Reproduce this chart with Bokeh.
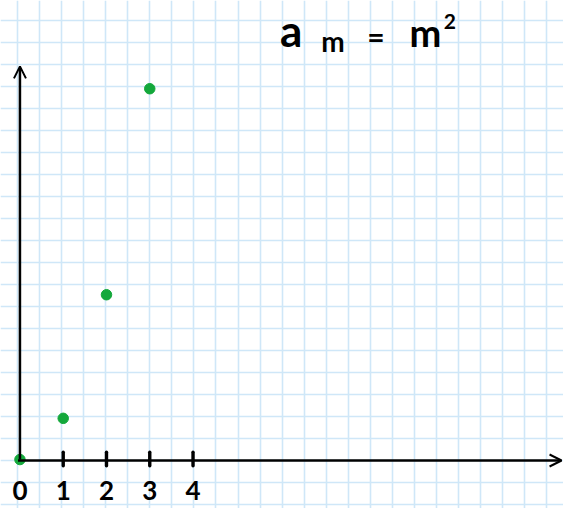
from bokeh.plotting import figure
from bokeh.models import Range1d, FixedTicker, Arrow, OpenHead, Label
from bokeh.core.properties import value
from bokeh.embed import file_html
from bokeh.resources import INLINE

# ---- data ----
n_values = [0, 1, 2, 3]
a_values = [0, 1, 4, 9]
tick_values = [1, 2, 3, 4]
tick_labels = ["0", "1", "2", "3", "4"]
label_positions = [0, 1, 2, 3, 4]

# ---- layout (reference is 579x524; figure fits the window margin) ----
REF_W, REF_H = 579, 524
W, H = 563, 508
PX_X = 44.5    # reference px per unit in x
PX_Y = 42.5    # reference px per unit in y
ORIG_X, ORIG_Y = 20.0, 473.5   # reference px of the origin
PAPER = 22.68  # graph-paper pitch (reference px)


def X(rx):
    return (rx - ORIG_X) / PX_X


def Y(ry):
    return (ORIG_Y - ry) / PX_Y


p = figure(width=W, height=H, output_backend="svg", toolbar_location=None,
           x_axis_location=None, y_axis_location=None, min_border=0,
           x_range=Range1d(X(0), X(REF_W)), y_range=Range1d(Y(REF_H), Y(0)))
p.outline_line_color = None
p.background_fill_color = "white"
p.border_fill_color = "white"

# graph paper
p.xgrid.ticker = FixedTicker(ticks=[X(17.5 + PAPER * k) for k in range(27)])
p.ygrid.ticker = FixedTicker(ticks=[Y(20.5 + PAPER * k) for k in range(24)])
p.grid.grid_line_color = "#cfe7f8"
p.grid.grid_line_width = 1.6
p.grid.grid_line_alpha = 1.0
p.grid.minor_grid_line_color = None

# axes (hand-drawn style arrows)
p.add_layout(Arrow(end=OpenHead(size=12, line_width=2, line_color="black"),
                   x_start=0, y_start=0, x_end=0, y_end=Y(68),
                   line_width=2.5, line_color="black"))
p.add_layout(Arrow(end=OpenHead(size=12, line_width=2, line_color="black"),
                   x_start=X(18), y_start=Y(474.5), x_end=X(577), y_end=Y(474.5),
                   line_width=2.5, line_color="black"))

# ticks
p.segment(x0=tick_values, x1=tick_values,
          y0=[Y(480)] * len(tick_values), y1=[Y(466)] * len(tick_values),
          line_width=3.4, line_color="black", line_cap="round")

# tick labels
p.text(x=label_positions, y=[Y(505)] * len(label_positions), text=tick_labels,
       text_align="center", text_baseline="middle", text_font=value("Lato"),
       text_font_style="bold", text_font_size="26px", text_color="black")

# points
p.scatter(x=n_values, y=a_values, size=10.5, color="#13a83b", line_color="#13a83b")

# handwritten formula
pieces = [("a", 299, 30, "44px"), ("m", 342, 42, "28px"), ("=", 386, 37, "30px"),
          ("m", 437, 32, "38px"), ("2", 462, 22, "21px")]
for txt, rx, ry, fs in pieces:
    p.add_layout(Label(x=X(rx), y=Y(ry), text=txt, text_align="center",
                       text_baseline="middle", text_font="Lato", text_font_style="bold",
                       text_font_size=fs, text_color="black"))

open("out.html", "w").write(file_html(p, INLINE))
